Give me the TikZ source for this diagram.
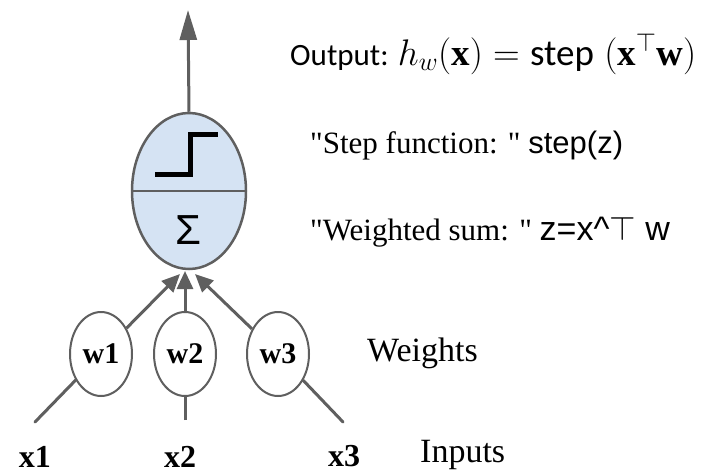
\RequirePackage{fix-cm}
\documentclass[tikz,border=0pt]{standalone}
\usepackage{amsmath}
\usepackage{fontspec}
\setmainfont{Liberation Serif}
\setsansfont{Liberation Sans}
\newfontfamily\calibri{Carlito}
\usetikzlibrary{arrows.meta, positioning, shapes.geometric}
\definecolor{percblue}{RGB}{213, 227, 243}
\definecolor{percgray}{RGB}{95, 95, 95}

\begin{document}
\begin{tikzpicture}[
    x=1pt, y=-1pt,
    unit/.style={draw=percgray, ellipse, line width=2.5pt, fill=percblue, minimum width=114pt, minimum height=156pt, inner sep=0pt},
    weight/.style={draw=percgray, ellipse, line width=2pt, fill=white, minimum width=62pt, minimum height=84pt, inner sep=0pt, font=\fontsize{30}{36}\selectfont\bfseries},
    wire/.style={draw=percgray, line width=3pt},
    feed/.style={wire, -{Triangle[length=18pt, width=16pt]}},
    inlabel/.style={anchor=base, inner sep=0pt, font=\fontsize{32}{38}\selectfont\bfseries},
    note/.style={anchor=base west, inner sep=0pt, font=\fontsize{31}{36}\selectfont},
]

\useasboundingbox (0,0) rectangle (704,474);

% Neuron
\node[unit] (neuron) at (189,191) {};
\draw[percgray, line width=2.5pt] (neuron.west) -- (neuron.east);
\draw[line width=5pt, line join=miter] (155,174) -- (190,174) -- (190,134) -- (218,134);
\node[font=\sffamily\fontsize{42}{48}\selectfont] (sigma) at (188,230) {Σ};

% Output
\coordinate (out) at (188,10);
\draw[wire, -{Triangle[length=30pt, width=17pt]}] (neuron.north) -- (out);

% Weights
\node[weight] (w1) at (101,354) {w1};
\node[weight] (w2) at (185,354) {w2};
\node[weight] (w3) at (278,354) {w3};

\coordinate (t1) at (180,274);
\coordinate (t2) at (185,271);
\coordinate (t3) at (195,274);
\draw[feed] (w1) -- (t1);
\draw[feed] (w2) -- (t2);
\draw[feed] (w3) -- (t3);

% Inputs
\node[inlabel] (x1) at (35,467) {x1};
\node[inlabel] (x2) at (180,467) {x2};
\node[inlabel] (x3) at (344,466) {x3};

\coordinate (in1) at (35,422);
\coordinate (in2) at (185,420);
\coordinate (in3) at (343,422);
\draw[wire, line cap=round] (in1) -- (w1);
\draw[wire] (in2) -- (w2);
\draw[wire, line cap=round] (in3) -- (w3);

% Notes
\node[note, font=\calibri\fontsize{31}{36}\selectfont] (outtext) at (290,65)
    {Output: {\fontsize{37}{42}\selectfont$h_w(\mathbf{x}) \mathrel{=} \text{\calibri step}\;(\mathbf{x}^{\top}\mathbf{w})$}};
\node[note] (steptext) at (310,153) {\textquotedbl Step function: \textquotedbl\ {\sffamily step(z)}};
\node[note] (sumtext) at (310,240) {\textquotedbl Weighted sum: \textquotedbl\ {\sffamily\fontsize{34}{40}\selectfont z=x\textasciicircum$\top$ w}};
\node[note, font=\fontsize{34}{40}\selectfont] (wtext) at (367,361) {Weights};
\node[note, font=\fontsize{34}{40}\selectfont] (intext) at (420,462) {Inputs};

\end{tikzpicture}
\end{document}
